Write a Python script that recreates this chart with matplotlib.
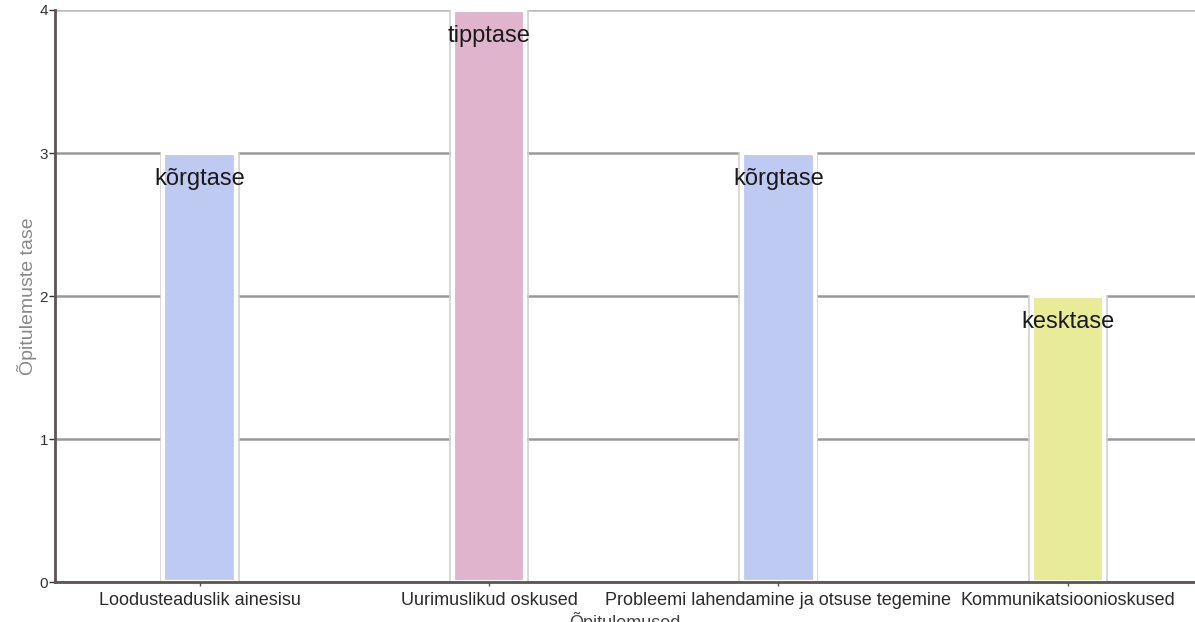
import numpy as np
import matplotlib
matplotlib.use('Agg')
import matplotlib.pyplot as plt

plt.rcParams['font.family'] = ['Liberation Sans', 'DejaVu Sans']

categories = ['Loodusteaduslik ainesisu', 'Uurimuslikud oskused',
              'Probleemi lahendamine ja otsuse tegemine', 'Kommunikatsioonioskused']
levels = [3, 4, 3, 2]
level_names = ['kõrgtase', 'tipptase', 'kõrgtase', 'kesktase']
bar_colors = ['#bfcaf2', '#dfb4cc', '#bfcaf2', '#e8eb98']

fig = plt.figure(figsize=(11.95, 6.22), dpi=100)
ax = fig.add_axes([0.046, 0.064, 0.954, 0.92])

x = np.arange(len(categories))

# grid behind the bars
for y in range(0, 5):
    ax.axhline(y, color='#bbbbbb' if y == 4 else '#999999', lw=1.8, zorder=0)

# light grey frame, then the white-edged coloured bar inside it
ax.bar(x, levels, width=0.27, facecolor='none', edgecolor='#cfcfcf', lw=1.2, zorder=2)
ax.bar(x, levels, width=0.25, color=bar_colors, edgecolor='white', lw=3, zorder=3)

for xi, v, name in zip(x, levels, level_names):
    ax.text(xi, v - 0.18, name, ha='center', va='center', fontsize=17,
            color='#1a1a1a', zorder=4)

ax.set_xlim(-0.5, 3.44)
ax.set_ylim(0, 4)
ax.set_yticks(range(0, 5))
ax.set_xticks(x)
ax.set_xticklabels(categories, fontsize=13, color='#2a2a2a')
ax.tick_params(axis='y', labelsize=11, colors='#333333', length=4, width=1, pad=1)
ax.tick_params(axis='x', length=3, width=1, pad=4, color='#555555')

ax.set_ylabel('Õpitulemuste tase', fontsize=14, color='#888888', labelpad=2)
ax.set_xlabel('Õpitulemused', fontsize=13, color='#444444', labelpad=2)

for side in ['top', 'right']:
    ax.spines[side].set_visible(False)
for side in ['left', 'bottom']:
    ax.spines[side].set_color('#5c5353')
    ax.spines[side].set_linewidth(2)
    ax.spines[side].set_zorder(5)

fig.savefig('out.png', dpi=100)
